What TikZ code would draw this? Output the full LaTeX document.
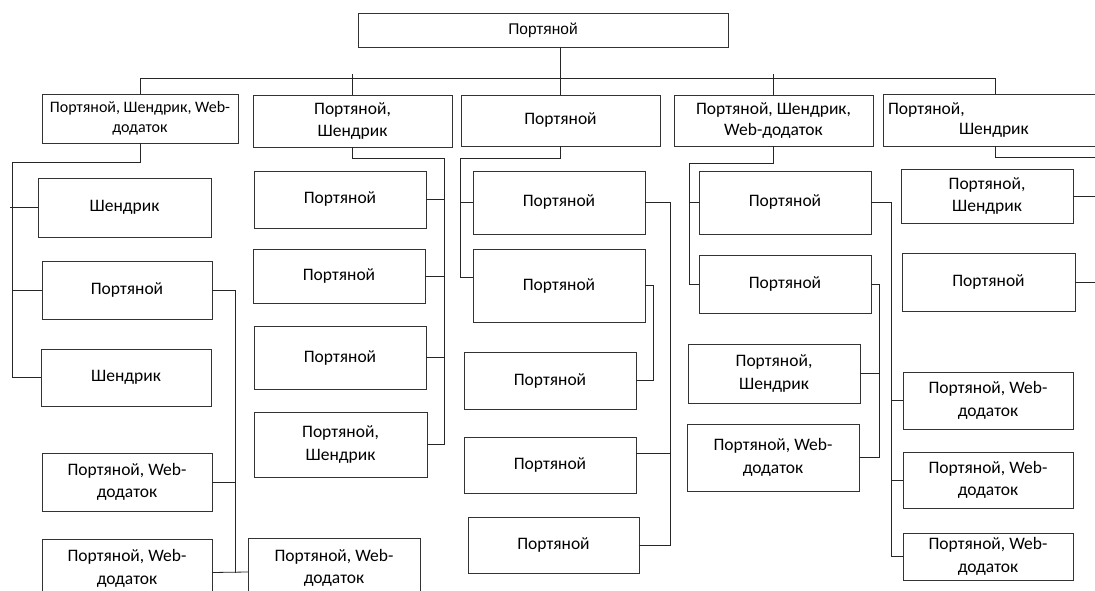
\documentclass[tikz,border=0pt]{standalone}
\usepackage{fontspec}
\setmainfont{Carlito}
\newfontfamily\arialfont{Liberation Sans}

% A box given by its corners: [options]{name}{x1}{y1}{x2}{y2}{text}
\newcommand\cell[7][]{%
  \node[box,minimum width={(#5-#3)*1pt},minimum height={(#6-#4)*1pt},#1]
    (#2) at ({(#3+#5)/2},{(#4+#6)/2}) {#7};}

\tikzset{
  box/.style={draw=black!80, line width=0.9pt, inner sep=1pt, outer sep=0pt,
    align=center, font=\fontsize{17.5}{22.5}\selectfont},
  link/.style={draw=black!85, line width=0.8pt},
}

\begin{document}
\begin{tikzpicture}[x=1pt,y=-1pt]
\clip (0,0) rectangle (1095,591);
\fill[white] (0,0) rectangle (1095,591);

% root and first level
\cell[font=\arialfont\fontsize{15.5}{19}\selectfont]{top}{358}{13}{728}{47}{Портяной}
\cell[font=\fontsize{16}{20}\selectfont]{B1}{42}{94}{238}{143}{Портяной, Шендрик, Web-\\додаток}
\cell{B2}{253}{95}{452}{147}{Портяной,\\Шендрик}
\cell{B3}{461}{95}{660}{146}{Портяной}
\cell[font=\fontsize{17.5}{21}\selectfont]{B4}{674}{95}{873}{146}{Портяной, Шендрик,\\Web-додаток}
\cell[text width=215pt,align=left,inner xsep=5pt,font=\fontsize{17.5}{20}\selectfont]{B5}{883}{94}{1108}{146}{Портяной,\\\hspace*{71pt}Шендрик}

% column 1
\cell{C1a}{38}{178}{211}{237}{Шендрик}
\cell{C1b}{42}{261}{212}{319}{Портяной}
\cell{C1c}{41}{349}{211}{406}{Шендрик}
\cell{C1d}{42}{453}{212}{511}{Портяной, Web-\\додаток}
\cell{C1e}{42}{539}{212}{598}{Портяной, Web-\\додаток}
\cell{C1f}{248}{538}{420}{598}{Портяной, Web-\\додаток}

% column 2
\cell{C2a}{254}{171}{426}{228}{Портяной}
\cell{C2b}{253}{249}{425}{303}{Портяной}
\cell{C2c}{254}{326}{426}{389}{Портяной}
\cell{C2d}{254}{412}{427}{477}{Портяной,\\Шендрик}

% column 3
\cell{C3a}{473}{171}{645}{234}{Портяной}
\cell{C3b}{473}{249}{645}{322}{Портяной}
\cell{C3c}{464}{352}{636}{409}{Портяной}
\cell{C3e}{464}{437}{636}{493}{Портяной}
\cell{C3f}{468}{517}{639}{573}{Портяной}

% column 4
\cell{C4a}{699}{171}{871}{234}{Портяной}
\cell{C4b}{699}{255}{871}{313}{Портяной}
\cell{C4c}{688}{344}{860}{403}{Портяной,\\Шендрик}
\cell{C4d}{687}{424}{859}{491}{Портяной, Web-\\додаток}

% column 5
\cell{C5a}{901}{169}{1073}{223}{Портяной,\\Шендрик}
\cell{C5b}{902}{253}{1075}{311}{Портяной}
\cell{C5c}{903}{372}{1073}{429}{Портяной, Web-\\додаток}
\cell{C5d}{903}{452}{1073}{508}{Портяной, Web-\\додаток}
\cell{C5e}{903}{533}{1073}{580}{Портяной, Web-\\додаток}

% root to first level
\coordinate (bus) at (0,78);
\draw[link] (top.south -| B3.north) -- (B3.north);
\draw[link] (B1.north) -- (B1.north |- bus) -- (B5.north |- bus) -- (B5.north);
\draw[link] (B2.north) -- ([yshift=4pt]B2.north |- bus);
\draw[link] (B4.north) -- ([yshift=4pt]B4.north |- bus);

% column 1 links
\coordinate (s1) at (12,162);
\draw[link] (B1.south) |- (s1) -- (s1 |- C1c.west) -- (C1c.west);
\draw[link] ([xshift=-2pt]s1 |- C1a.west) -- (C1a.west);
\draw[link] (s1 |- C1b.west) -- (C1b.west);
\coordinate (s1b) at (235,0);
\coordinate (C1eR) at ([yshift=-4pt]C1e.east);
\coordinate (C1fL) at ([yshift=-4pt]C1f.west);
\draw[link] (C1b.east) -- (C1b.east -| s1b) -- (s1b |- C1eR);
\draw[link] (C1d.east) -- (C1d.east -| s1b);
\draw[link] (C1eR) -- (C1fL);

% column 2 links
\coordinate (s2) at (444,158);
\draw[link] (B2.south) |- (s2) -- (s2 |- C2d.east) -- (C2d.east);
\foreach \n in {C2a,C2b,C2c} \draw[link] (\n.east) -- (\n.east -| s2);

% column 3 links
\coordinate (s3) at (460,158);
\coordinate (C3bL) at ([yshift=8pt]C3b.west);
\draw[link] (B3.south) |- (s3) -- (s3 |- C3bL) -- (C3bL);
\draw[link] (s3 |- C3a.west) -- (C3a.west);
\coordinate (s3a) at (670,0);
\coordinate (s3b) at (653,0);
\coordinate (C3eR) at ([yshift=12pt]C3e.east);
\draw[link] (C3a.east) -- (C3a.east -| s3a) -- (s3a |- C3f.east) -- (C3f.east);
\draw[link] (C3eR) -- (C3eR -| s3a);
\draw[link] (C3b.east) -- (C3b.east -| s3b) -- (s3b |- C3c.east) -- (C3c.east);

% column 4 links
\coordinate (s4) at (689,163);
\draw[link] (B4.south) |- (s4) -- (s4 |- C4b.west) -- (C4b.west);
\draw[link] (s4 |- C4a.west) -- (C4a.west);
\coordinate (s4a) at (891,0);
\coordinate (s4b) at (879,0);
\draw[link] (C4a.east) -- (C4a.east -| s4a) -- (s4a |- C5e.west) -- (C5e.west);
\draw[link] (s4a |- C5c.west) -- (C5c.west);
\draw[link] (s4a |- C5d.west) -- (C5d.west);
\draw[link] (C4b.east) -- (C4b.east -| s4b) -- (s4b |- C4d.east) -- (C4d.east);
\draw[link] (C4c.east) -- (C4c.east -| s4b);

% column 5 links
\coordinate (s5) at (1102,157);
\draw[link] (B5.south) |- (s5) -- (s5 |- C5b.east) -- (C5b.east);
\draw[link] (C5a.east) -- (C5a.east -| s5);
\end{tikzpicture}
\end{document}
